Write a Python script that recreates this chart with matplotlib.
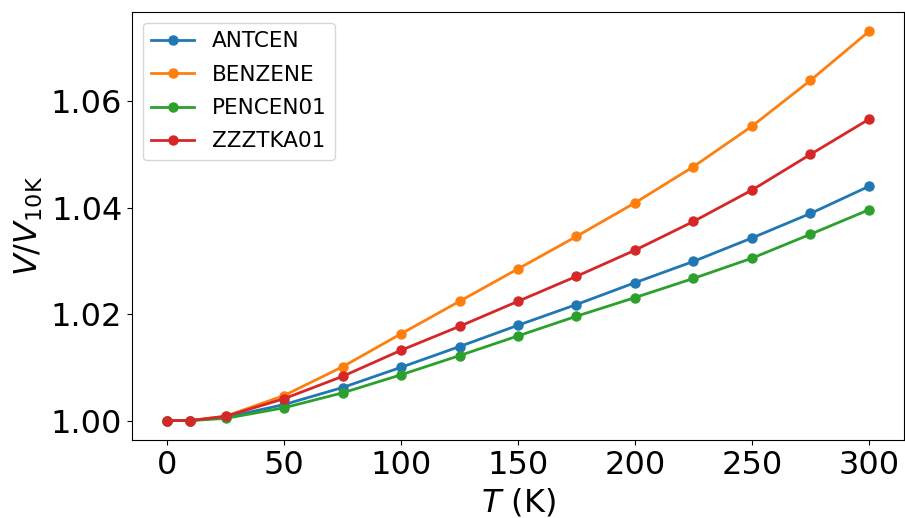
import matplotlib
matplotlib.use("Agg")
import matplotlib.pyplot as plt

# temperatures (K)
T = [0, 10, 25, 50, 75, 100, 125, 150, 175, 200, 225, 250, 275, 300]

# V / V_10K for each crystal
antcen = [1.0, 1.0, 1.0006, 1.0030, 1.0062, 1.0100, 1.0139, 1.0179, 1.0218, 1.0259, 1.0299, 1.0343, 1.0389, 1.0440]
benzene = [1.0, 1.0, 1.0008, 1.0047, 1.0101, 1.0163, 1.0224, 1.0285, 1.0346, 1.0409, 1.0477, 1.0553, 1.0639, 1.0731]
pencen01 = [1.0, 1.0, 1.0004, 1.0024, 1.0052, 1.0086, 1.0122, 1.0159, 1.0196, 1.0231, 1.0267, 1.0305, 1.0350, 1.0396]
zzztka01 = [1.0, 1.0, 1.0008, 1.0041, 1.0083, 1.0132, 1.0177, 1.0224, 1.0271, 1.0320, 1.0374, 1.0433, 1.0500, 1.0566]

names = ["ANTCEN", "BENZENE", "PENCEN01", "ZZZTKA01"]
series = [antcen, benzene, pencen01, zzztka01]

fig = plt.figure(figsize=(9.05, 5.18), dpi=100)
ax = fig.add_axes([132/905, 78/518, 772/905, 428/518])

for name, vals in zip(names, series):
    ax.plot(T, vals, marker="o", markersize=6.5, linewidth=2, label=name)

ax.set_xlabel("$T$ (K)", fontsize=23)
ax.set_ylabel("$V/V_{10\\mathrm{K}}$", fontsize=23)
ax.tick_params(labelsize=23)
ax.set_yticks([1.00, 1.02, 1.04, 1.06])
ax.legend(fontsize=15.5, loc="upper left", labelspacing=0.62)

plt.savefig("out.png")
